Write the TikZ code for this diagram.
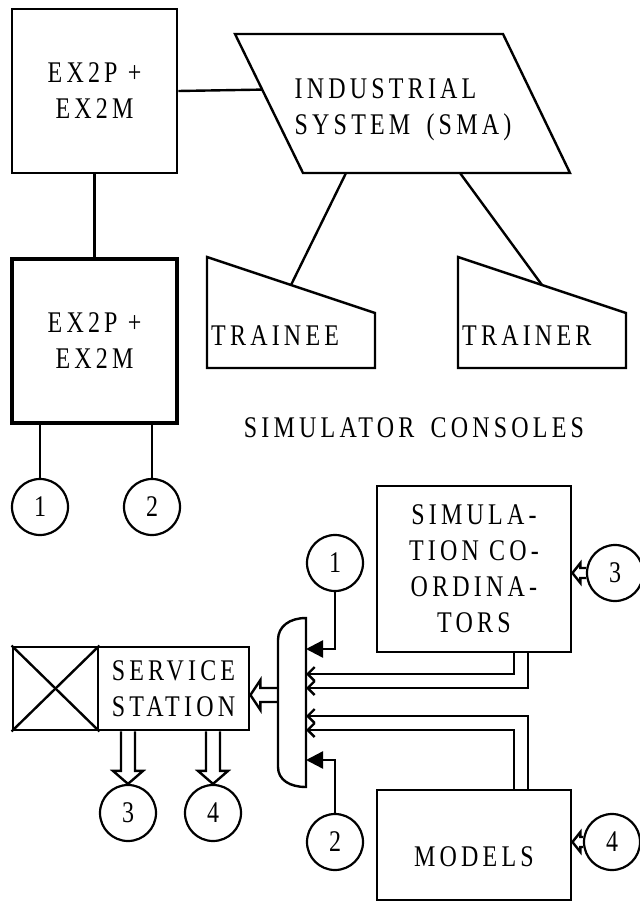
\documentclass[tikz,border=0pt]{standalone}
\usepackage{fontspec}
\setmainfont{Liberation Serif}[FakeStretch=0.8,LetterSpace=14]
\usetikzlibrary{arrows.meta,calc}

% hollow block arrow: start, end, shaft half width, head half width, head length
\newcommand\hollowarrow[5]{%
    \path (#2) coordinate (hh) ($(#2)!#5!(#1)$) coordinate (hb);
    \draw[wire, line join=miter] ($(#1)!#3!90:(#2)$) -- ($(hb)!#3!90:(hh)$) -- ($(hb)!#4!90:(hh)$) -- (hh)
        -- ($(hb)!#4!-90:(hh)$) -- ($(hb)!#3!-90:(hh)$) -- ($(#1)!#3!-90:(#2)$);
}

\begin{document}
\begin{tikzpicture}[
                x=1pt, y=-1pt,
                every node/.append style={font=\fontsize{30}{36}\selectfont, align=center},
                box/.style={draw, rectangle, line width=2.8pt, inner sep=0pt},
                unit/.style={circle, draw, line width=2.2pt, minimum size=56pt, inner sep=0pt},
                wire/.style={line width=2.4pt},
                feed/.style={wire, -{Triangle[length=17pt,width=17pt]}},
                busline/.style={wire, -{Straight Barb[length=7pt,width=14pt]}}
            ]
                \useasboundingbox (0,0) rectangle (639,901);

                % upper part
                \node[box, minimum width=165pt, minimum height=164pt] (ex1) at (94.5,91) {EX2P +\\EX2M};
                \node[box, line width=3.6pt, minimum width=165pt, minimum height=164pt] (ex2) at (94.5,341) {EX2P +\\EX2M};
                \draw[wire] (ex1) -- (ex2);

                \draw[wire] (235,34) coordinate (smaNW) -- (503,34) -- (570,173) -- (303,173) coordinate (smaSW) -- cycle;
                \node[align=left, inner sep=0pt] (sma) at (403,110) {INDUSTRIAL\\SYSTEM\hspace{6pt} (SMA)};
                \draw[wire] (ex1.east) -- ($(smaNW)!0.4!(smaSW)$);

                \draw[wire] (207,257) coordinate (tnA) -- (375,313) coordinate (tnB) -- (375,368) -- (207,368) -- cycle;
                \node[anchor=base west, inner sep=0pt] (trainee) at (211,345) {TRAINEE};
                \draw[wire] (458,257) coordinate (trA) -- (626,313) coordinate (trB) -- (626,368) -- (458,368) -- cycle;
                \node[anchor=base west, inner sep=0pt] (trainer) at (462,345) {TRAINER};
                \coordinate (smaS1) at (346,173);
                \coordinate (smaS2) at (460,173);
                \draw[wire] (smaS1) -- ($(tnA)!0.5!(tnB)$);
                \draw[wire] (smaS2) -- ($(trA)!0.5!(trB)$);
                \node[anchor=base, inner sep=0pt] (consoles) at (414,437) {SIMULATOR\hspace{6pt} CONSOLES};

                \node[unit] (u1) at (40,507) {1};
                \node[unit] (u2) at (152,507) {2};
                \draw[wire] (u1.north |- ex2.south) -- (u1);
                \draw[wire] (u2.north |- ex2.south) -- (u2);

                % lower part
                \node[box, minimum width=194pt, minimum height=166pt] (coord) at (474,569) {SIMULA-\\TION CO-\\ORDINA-\\TORS};
                \node[box, minimum width=194pt, minimum height=110pt, text height=44pt] (models) at (474,845) {MODELS};
                \node[box, minimum width=151pt, minimum height=83pt] (station) at (173.5,688.5) {SERVICE\\STATION};
                \node[box, minimum width=85pt, minimum height=83pt] (panel) at (55.5,688.5) {};
                \draw[wire] (panel.north west) -- (panel.south east);
                \draw[wire] (panel.south west) -- (panel.north east);

                \draw[wire] (306,618) .. controls (290,618) and (278,626) .. (278,640) -- (278,767)
                    .. controls (278,780) and (290,787) .. (306,787) -- cycle;
                \coordinate (busW) at (278,695);
                \coordinate (in1) at (306,649);
                \coordinate (in2) at (306,674);
                \coordinate (in3) at (306,688);
                \coordinate (in4) at (306,716);
                \coordinate (in5) at (306,730);
                \coordinate (in6) at (306,760);

                \node[unit] (c1) at (335,563) {1};
                \node[unit] (c2) at (335,842) {2};
                \node[unit] (c3) at (615,573) {3};
                \node[unit] (c4) at (612,842) {4};
                \node[unit] (s3) at (128,813) {3};
                \node[unit] (s4) at (213,813) {4};

                \draw[feed] (c1.south) |- (in1);
                \draw[feed] (c2.north) |- (in6);
                \draw[busline] ([xshift=40pt]coord.south) |- (in2);
                \draw[busline] ([xshift=54pt]coord.south) |- (in3);
                \draw[busline] ([xshift=54pt]models.north) |- (in4);
                \draw[busline] ([xshift=40pt]models.north) |- (in5);

                \hollowarrow{busW}{busW -| station.east}{7pt}{15pt}{10pt}
                \hollowarrow{s3.north |- station.south}{s3.north}{7pt}{15pt}{13pt}
                \hollowarrow{s4.north |- station.south}{s4.north}{7pt}{15pt}{13pt}
                \hollowarrow{c3.west}{c3.west -| coord.east}{5pt}{10pt}{8pt}
                \hollowarrow{c4.west}{c4.west -| models.east}{5pt}{10pt}{8pt}
            \end{tikzpicture}
\end{document}
